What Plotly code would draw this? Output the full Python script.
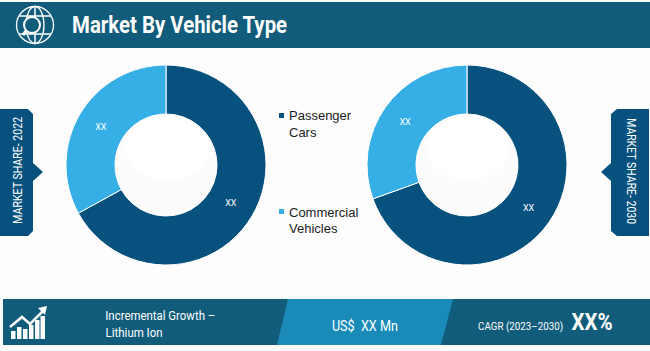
import json
import plotly.graph_objects as go

categories = ["Passenger Cars", "Commercial Vehicles"]
share_2022 = [67, 33]
share_2030 = [69.5, 30.5]
slice_labels = ["XX", "XX"]
title = "Market By Vehicle Type"
W, H = 650, 351
DARK, LIGHT, BAN, MID = "#07517f", "#35afe5", "#115c7b", "#1a8bb9"
NARROW = "Roboto, sans-serif"
BODY = "Liberation Sans, sans-serif"

def px(x): return x / W
def py(y): return 1 - y / H
def dom(cx, cy, r):
    return dict(x=[px(cx - r), px(cx + r)], y=[py(cy + r), py(cy - r)])

fig = go.Figure()
for vals, cx in ((share_2022, 166), (share_2030, 467)):
    fig.add_trace(go.Pie(
        labels=categories, values=vals, text=slice_labels, textinfo="text",
        textposition="inside", insidetextorientation="horizontal",
        textfont=dict(color="white", size=9, family=NARROW),
        hole=0.51, sort=False, direction="clockwise", rotation=0,
        marker=dict(colors=[DARK, LIGHT], line=dict(color="white", width=1)),
        domain=dom(cx, 165, 100), showlegend=False))

shapes = []
def poly(pts, fill):
    path = "M" + "L".join(f"{px(x)},{py(y)}" for x, y in pts) + "Z"
    shapes.append(dict(type="path", path=path, xref="paper", yref="paper", fillcolor=fill, line=dict(color=fill, width=0), layer="below"))
def stroke(pts, col="white", lw=1.5):
    path = "M" + "L".join(f"{px(x)},{py(y)}" for x, y in pts)
    shapes.append(dict(type="path", path=path, xref="paper", yref="paper", line=dict(color=col, width=lw)))
def circ(cx, cy, rx, ry=None, col="white", lw=1.3, fill=None, layer="above"):
    ry = ry or rx
    shapes.append(dict(type="circle", xref="paper", yref="paper", x0=px(cx-rx), x1=px(cx+rx), y0=py(cy+ry), y1=py(cy-ry),
                       line=dict(color=col, width=lw), fillcolor=fill or "rgba(0,0,0,0)", layer=layer))

# header and footer bands
poly([(0, 2), (650, 2), (650, 48), (0, 48)], BAN)
poly([(3, 299), (650, 299), (650, 345), (3, 345)], BAN)
poly([(288, 299), (453, 299), (441, 345), (277, 345)], MID)
# side tags
poly([(0, 109), (28, 109), (33, 114), (33, 163), (43, 172), (33, 181), (33, 231), (28, 236), (0, 236)], DARK)
poly([(649, 109), (617, 109), (611, 114), (611, 163), (601, 172), (611, 181), (611, 231), (617, 236), (649, 236)], DARK)
# soft gloss inside the holes
for cx in (166, 467):
    circ(cx, 165, 51, col="#fcfcfc", lw=0, fill="#fcfcfc", layer="below")
    circ(cx + 1, 148, 42, 32, col="#ffffff", lw=0, fill="#ffffff", layer="below")
# legend squares
shapes.append(dict(type="rect", xref="paper", yref="paper", x0=px(279), x1=px(284), y0=py(118), y1=py(113), fillcolor=DARK, line_width=0))
shapes.append(dict(type="rect", xref="paper", yref="paper", x0=px(279), x1=px(284), y0=py(214), y1=py(209), fillcolor=LIGHT, line_width=0))
# globe icon
circ(35, 25, 18.5)
circ(35, 25, 9, 18.5)
stroke([(35, 7), (35, 43)]); stroke([(19, 16), (51, 16)]); stroke([(19, 34), (51, 34)])
circ(32, 25, 8, col="white", lw=2, fill=BAN)
stroke([(26, 31), (23, 35)], lw=3)
# growth icon
for x, top in ((11, 331), (17, 327), (23, 329), (29, 325), (35, 320), (40.5, 316)):
    poly([(x, top), (x + 4.5, top), (x + 4.5, 339), (x, 339)], "white")
stroke([(10, 327), (22, 317), (30, 324), (43, 311)], lw=2.5)
poly([(38, 308), (47, 306), (45, 315)], "white")

def note(x, y, text, size, color="white", family=NARROW, anchor="center", angle=0, weight=400):
    return dict(x=px(x), y=py(y), xref="paper", yref="paper", text=text, showarrow=False, xanchor=anchor, yanchor="middle",
                font=dict(size=size, color=color, family=family, weight=weight), textangle=angle)

annotations = [
    note(179.5, 25, title, 24, weight=700),
    note(160.5, 315, "Incremental Growth –", 12.5),
    note(134, 332, "Lithium Ion", 12.5),
    note(364.5, 326, "US$  XX Mn", 14.5),
    note(520.5, 326, "CAGR (2023–2030)", 10.5),
    note(591.5, 322, "XX%", 24, weight=700),
    note(17, 170.5, "MARKET SHARE- 2022", 12.5, angle=-90),
    note(632, 171, "MARKET SHARE- 2030", 12.5, angle=90),
    note(287, 116, "Passenger", 13, color="#222222", family=BODY, anchor="left"),
    note(287, 132, "Cars", 13, color="#222222", family=BODY, anchor="left"),
    note(287, 212, "Commercial", 13, color="#222222", family=BODY, anchor="left"),
    note(287, 228, "Vehicles", 13, color="#222222", family=BODY, anchor="left"),
]

# target rendered widths of the condensed lettering in the reference
text_widths = {title: 215, "Incremental Growth –": 110, "Lithium Ion": 57, "US$  XX Mn": 66,
               "CAGR (2023–2030)": 85, "XX%": 41, "MARKET SHARE- 2022": 107, "MARKET SHARE- 2030": 106}

fig.update_layout(width=W, height=H, margin=dict(l=0, r=0, t=0, b=0), paper_bgcolor="#fdfdfd", plot_bgcolor="#fdfdfd",
                  shapes=shapes, annotations=annotations)
script = """
document.body.style.margin = '0';
var widths = %s;
function condense() {
  document.querySelectorAll('.annotation-text').forEach(function (t) {
    var w = widths[t.textContent.replace(/\\u00a0/g, ' ')];
    if (w) { t.setAttribute('textLength', w); t.setAttribute('lengthAdjust', 'spacingAndGlyphs'); }
  });
}
condense();
setTimeout(condense, 50);
""" % json.dumps(text_widths)
fig.write_html("out.html", config=dict(displayModeBar=False), post_script=script)
